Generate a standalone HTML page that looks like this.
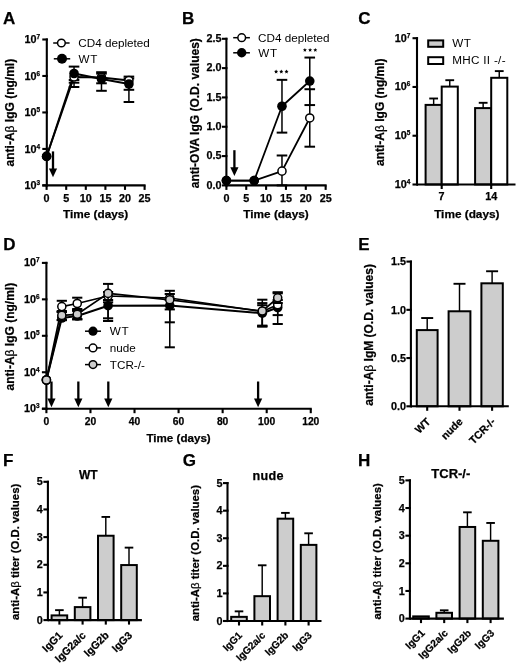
<!DOCTYPE html>
<html><head><meta charset="utf-8"><style>
html,body{margin:0;padding:0;background:#fff;}
svg{display:block;font-family:"Liberation Sans", sans-serif;filter:grayscale(1);}
text[font-weight="bold"]{stroke:#000;stroke-width:0.25;}
</style></head><body>
<svg width="520" height="665" viewBox="0 0 520 665">
<rect x="0" y="0" width="520" height="665" fill="#fff"/>
<g fill="#000">
<text x="3.10" y="24.10" font-size="17" font-weight="bold" text-anchor="start" >A</text>
<line x1="46.80" y1="38.45" x2="46.80" y2="186.45" stroke="#000" stroke-width="2.1" stroke-linecap="butt"/>
<line x1="42.30" y1="39.50" x2="47.85" y2="39.50" stroke="#000" stroke-width="2.1" stroke-linecap="butt"/>
<line x1="42.30" y1="75.97" x2="47.85" y2="75.97" stroke="#000" stroke-width="2.1" stroke-linecap="butt"/>
<line x1="42.30" y1="112.45" x2="47.85" y2="112.45" stroke="#000" stroke-width="2.1" stroke-linecap="butt"/>
<line x1="42.30" y1="148.93" x2="47.85" y2="148.93" stroke="#000" stroke-width="2.1" stroke-linecap="butt"/>
<line x1="42.30" y1="185.40" x2="47.85" y2="185.40" stroke="#000" stroke-width="2.1" stroke-linecap="butt"/>
<line x1="42.30" y1="185.40" x2="145.60" y2="185.40" stroke="#000" stroke-width="2.1" stroke-linecap="butt"/>
<line x1="46.60" y1="185.40" x2="46.60" y2="189.90" stroke="#000" stroke-width="2.1" stroke-linecap="butt"/>
<line x1="66.20" y1="185.40" x2="66.20" y2="189.90" stroke="#000" stroke-width="2.1" stroke-linecap="butt"/>
<line x1="85.80" y1="185.40" x2="85.80" y2="189.90" stroke="#000" stroke-width="2.1" stroke-linecap="butt"/>
<line x1="105.40" y1="185.40" x2="105.40" y2="189.90" stroke="#000" stroke-width="2.1" stroke-linecap="butt"/>
<line x1="125.00" y1="185.40" x2="125.00" y2="189.90" stroke="#000" stroke-width="2.1" stroke-linecap="butt"/>
<line x1="144.60" y1="185.40" x2="144.60" y2="189.90" stroke="#000" stroke-width="2.1" stroke-linecap="butt"/>
<text x="40.00" y="43.20" font-size="10.8" font-weight="bold" text-anchor="end">10<tspan font-size="6.48" dy="-3.9">7</tspan></text>
<text x="40.00" y="79.67" font-size="10.8" font-weight="bold" text-anchor="end">10<tspan font-size="6.48" dy="-3.9">6</tspan></text>
<text x="40.00" y="116.15" font-size="10.8" font-weight="bold" text-anchor="end">10<tspan font-size="6.48" dy="-3.9">5</tspan></text>
<text x="40.00" y="152.62" font-size="10.8" font-weight="bold" text-anchor="end">10<tspan font-size="6.48" dy="-3.9">4</tspan></text>
<text x="40.00" y="189.10" font-size="10.8" font-weight="bold" text-anchor="end">10<tspan font-size="6.48" dy="-3.9">3</tspan></text>
<text x="46.60" y="201.50" font-size="10.8" font-weight="bold" text-anchor="middle" >0</text>
<text x="66.20" y="201.50" font-size="10.8" font-weight="bold" text-anchor="middle" >5</text>
<text x="85.80" y="201.50" font-size="10.8" font-weight="bold" text-anchor="middle" >10</text>
<text x="105.40" y="201.50" font-size="10.8" font-weight="bold" text-anchor="middle" >15</text>
<text x="125.00" y="201.50" font-size="10.8" font-weight="bold" text-anchor="middle" >20</text>
<text x="144.60" y="201.50" font-size="10.8" font-weight="bold" text-anchor="middle" >25</text>
<text x="95.60" y="218.20" font-size="11.8" font-weight="bold" text-anchor="middle" >Time (days)</text>
<text x="0" y="0" font-size="12" font-weight="bold" text-anchor="middle" transform="translate(14.00,112.60) rotate(-90)">anti-A<tspan font-weight="normal">β</tspan> IgG (ng/ml)</text>
<line x1="53.20" y1="43.00" x2="69.60" y2="43.00" stroke="#000" stroke-width="1.5" stroke-linecap="butt"/>
<circle cx="61.40" cy="43.00" r="3.85" fill="#fff" stroke="#000" stroke-width="1.5"/>
<line x1="53.80" y1="58.80" x2="70.20" y2="58.80" stroke="#000" stroke-width="1.5" stroke-linecap="butt"/>
<circle cx="62.00" cy="58.80" r="5.00" fill="#000"/>
<text x="78.30" y="47.00" font-size="11.7" font-weight="normal" text-anchor="start" >CD4 depleted</text>
<text x="78.60" y="62.60" font-size="11.7" font-weight="normal" text-anchor="start" letter-spacing="0.6">WT</text>
<line x1="74.04" y1="82.70" x2="74.04" y2="87.00" stroke="#000" stroke-width="1.5" stroke-linecap="butt"/>
<line x1="68.74" y1="82.70" x2="79.34" y2="82.70" stroke="#000" stroke-width="2.0" stroke-linecap="butt"/>
<line x1="68.74" y1="87.00" x2="79.34" y2="87.00" stroke="#000" stroke-width="2.0" stroke-linecap="butt"/>
<line x1="101.48" y1="72.20" x2="101.48" y2="83.30" stroke="#000" stroke-width="1.5" stroke-linecap="butt"/>
<line x1="96.18" y1="72.20" x2="106.78" y2="72.20" stroke="#000" stroke-width="2.0" stroke-linecap="butt"/>
<line x1="96.18" y1="83.30" x2="106.78" y2="83.30" stroke="#000" stroke-width="2.0" stroke-linecap="butt"/>
<line x1="128.92" y1="76.60" x2="128.92" y2="89.80" stroke="#000" stroke-width="1.5" stroke-linecap="butt"/>
<line x1="123.62" y1="76.60" x2="134.22" y2="76.60" stroke="#000" stroke-width="2.0" stroke-linecap="butt"/>
<line x1="123.62" y1="89.80" x2="134.22" y2="89.80" stroke="#000" stroke-width="2.0" stroke-linecap="butt"/>
<line x1="74.04" y1="66.60" x2="74.04" y2="80.00" stroke="#000" stroke-width="1.5" stroke-linecap="butt"/>
<line x1="68.74" y1="66.60" x2="79.34" y2="66.60" stroke="#000" stroke-width="2.0" stroke-linecap="butt"/>
<line x1="68.74" y1="80.00" x2="79.34" y2="80.00" stroke="#000" stroke-width="2.0" stroke-linecap="butt"/>
<line x1="101.48" y1="73.60" x2="101.48" y2="90.80" stroke="#000" stroke-width="1.5" stroke-linecap="butt"/>
<line x1="96.18" y1="73.60" x2="106.78" y2="73.60" stroke="#000" stroke-width="2.0" stroke-linecap="butt"/>
<line x1="96.18" y1="90.80" x2="106.78" y2="90.80" stroke="#000" stroke-width="2.0" stroke-linecap="butt"/>
<line x1="128.92" y1="78.50" x2="128.92" y2="102.00" stroke="#000" stroke-width="1.5" stroke-linecap="butt"/>
<line x1="123.62" y1="78.50" x2="134.22" y2="78.50" stroke="#000" stroke-width="2.0" stroke-linecap="butt"/>
<line x1="123.62" y1="102.00" x2="134.22" y2="102.00" stroke="#000" stroke-width="2.0" stroke-linecap="butt"/>
<polyline points="46.60,156.40 74.04,77.00 101.48,77.50 128.92,80.50" fill="none" stroke="#000" stroke-width="1.8" stroke-linejoin="round"/>
<polyline points="46.60,156.40 74.04,73.50 101.48,79.00 128.92,84.00" fill="none" stroke="#000" stroke-width="1.8" stroke-linejoin="round"/>
<circle cx="46.60" cy="156.40" r="4.05" fill="#fff" stroke="#000" stroke-width="1.5"/>
<circle cx="74.04" cy="77.00" r="4.05" fill="#fff" stroke="#000" stroke-width="1.5"/>
<circle cx="101.48" cy="77.50" r="4.05" fill="#fff" stroke="#000" stroke-width="1.5"/>
<circle cx="128.92" cy="80.50" r="4.05" fill="#fff" stroke="#000" stroke-width="1.5"/>
<circle cx="46.60" cy="156.40" r="4.80" fill="#000"/>
<circle cx="74.04" cy="73.50" r="4.80" fill="#000"/>
<circle cx="101.48" cy="79.00" r="4.80" fill="#000"/>
<circle cx="128.92" cy="84.00" r="4.80" fill="#000"/>
<line x1="53.00" y1="151.40" x2="53.00" y2="169.50" stroke="#000" stroke-width="2.3" stroke-linecap="butt"/>
<polygon points="48.90,168.50 57.10,168.50 53.00,177.30" fill="#000"/>
<text x="182.10" y="24.20" font-size="17" font-weight="bold" text-anchor="start" >B</text>
<line x1="226.40" y1="37.75" x2="226.40" y2="186.45" stroke="#000" stroke-width="2.1" stroke-linecap="butt"/>
<line x1="221.90" y1="38.80" x2="227.45" y2="38.80" stroke="#000" stroke-width="2.1" stroke-linecap="butt"/>
<line x1="221.90" y1="68.12" x2="227.45" y2="68.12" stroke="#000" stroke-width="2.1" stroke-linecap="butt"/>
<line x1="221.90" y1="97.44" x2="227.45" y2="97.44" stroke="#000" stroke-width="2.1" stroke-linecap="butt"/>
<line x1="221.90" y1="126.76" x2="227.45" y2="126.76" stroke="#000" stroke-width="2.1" stroke-linecap="butt"/>
<line x1="221.90" y1="156.08" x2="227.45" y2="156.08" stroke="#000" stroke-width="2.1" stroke-linecap="butt"/>
<line x1="221.90" y1="185.40" x2="227.45" y2="185.40" stroke="#000" stroke-width="2.1" stroke-linecap="butt"/>
<line x1="226.40" y1="185.40" x2="326.65" y2="185.40" stroke="#000" stroke-width="2.1" stroke-linecap="butt"/>
<line x1="226.40" y1="185.40" x2="226.40" y2="189.90" stroke="#000" stroke-width="2.1" stroke-linecap="butt"/>
<line x1="246.25" y1="185.40" x2="246.25" y2="189.90" stroke="#000" stroke-width="2.1" stroke-linecap="butt"/>
<line x1="266.10" y1="185.40" x2="266.10" y2="189.90" stroke="#000" stroke-width="2.1" stroke-linecap="butt"/>
<line x1="285.95" y1="185.40" x2="285.95" y2="189.90" stroke="#000" stroke-width="2.1" stroke-linecap="butt"/>
<line x1="305.80" y1="185.40" x2="305.80" y2="189.90" stroke="#000" stroke-width="2.1" stroke-linecap="butt"/>
<line x1="325.65" y1="185.40" x2="325.65" y2="189.90" stroke="#000" stroke-width="2.1" stroke-linecap="butt"/>
<text x="221.60" y="42.00" font-size="10.8" font-weight="bold" text-anchor="end" >2.5</text>
<text x="221.60" y="71.32" font-size="10.8" font-weight="bold" text-anchor="end" >2.0</text>
<text x="221.60" y="100.64" font-size="10.8" font-weight="bold" text-anchor="end" >1.5</text>
<text x="221.60" y="129.96" font-size="10.8" font-weight="bold" text-anchor="end" >1.0</text>
<text x="221.60" y="159.28" font-size="10.8" font-weight="bold" text-anchor="end" >0.5</text>
<text x="221.60" y="188.60" font-size="10.8" font-weight="bold" text-anchor="end" >0.0</text>
<text x="226.40" y="201.50" font-size="10.8" font-weight="bold" text-anchor="middle" >0</text>
<text x="246.25" y="201.50" font-size="10.8" font-weight="bold" text-anchor="middle" >5</text>
<text x="266.10" y="201.50" font-size="10.8" font-weight="bold" text-anchor="middle" >10</text>
<text x="285.95" y="201.50" font-size="10.8" font-weight="bold" text-anchor="middle" >15</text>
<text x="305.80" y="201.50" font-size="10.8" font-weight="bold" text-anchor="middle" >20</text>
<text x="325.65" y="201.50" font-size="10.8" font-weight="bold" text-anchor="middle" >25</text>
<text x="276.02" y="218.20" font-size="11.8" font-weight="bold" text-anchor="middle" >Time (days)</text>
<text x="0" y="0" font-size="12" font-weight="bold" text-anchor="middle" transform="translate(199.20,113.20) rotate(-90)">anti-OVA IgG (O.D. values)</text>
<line x1="233.20" y1="37.70" x2="249.90" y2="37.70" stroke="#000" stroke-width="1.5" stroke-linecap="butt"/>
<circle cx="241.70" cy="37.70" r="3.85" fill="#fff" stroke="#000" stroke-width="1.5"/>
<line x1="233.20" y1="52.80" x2="249.90" y2="52.80" stroke="#000" stroke-width="1.5" stroke-linecap="butt"/>
<circle cx="241.70" cy="52.80" r="4.70" fill="#000"/>
<text x="258.00" y="41.90" font-size="11.7" font-weight="normal" text-anchor="start" >CD4 depleted</text>
<text x="258.30" y="57.30" font-size="11.7" font-weight="normal" text-anchor="start" letter-spacing="0.6">WT</text>
<line x1="281.98" y1="185.40" x2="281.98" y2="155.49" stroke="#000" stroke-width="1.5" stroke-linecap="butt"/>
<line x1="276.68" y1="185.40" x2="287.28" y2="185.40" stroke="#000" stroke-width="2.0" stroke-linecap="butt"/>
<line x1="276.68" y1="155.49" x2="287.28" y2="155.49" stroke="#000" stroke-width="2.0" stroke-linecap="butt"/>
<line x1="309.77" y1="146.70" x2="309.77" y2="89.23" stroke="#000" stroke-width="1.5" stroke-linecap="butt"/>
<line x1="304.47" y1="146.70" x2="315.07" y2="146.70" stroke="#000" stroke-width="2.0" stroke-linecap="butt"/>
<line x1="304.47" y1="89.23" x2="315.07" y2="89.23" stroke="#000" stroke-width="2.0" stroke-linecap="butt"/>
<line x1="281.98" y1="132.62" x2="281.98" y2="79.85" stroke="#000" stroke-width="1.5" stroke-linecap="butt"/>
<line x1="276.68" y1="132.62" x2="287.28" y2="132.62" stroke="#000" stroke-width="2.0" stroke-linecap="butt"/>
<line x1="276.68" y1="79.85" x2="287.28" y2="79.85" stroke="#000" stroke-width="2.0" stroke-linecap="butt"/>
<line x1="309.77" y1="105.06" x2="309.77" y2="57.56" stroke="#000" stroke-width="1.5" stroke-linecap="butt"/>
<line x1="304.47" y1="105.06" x2="315.07" y2="105.06" stroke="#000" stroke-width="2.0" stroke-linecap="butt"/>
<line x1="304.47" y1="57.56" x2="315.07" y2="57.56" stroke="#000" stroke-width="2.0" stroke-linecap="butt"/>
<polyline points="226.40,180.53 254.19,180.53 281.98,171.15 309.77,117.96" fill="none" stroke="#000" stroke-width="1.8" stroke-linejoin="round"/>
<polyline points="226.40,180.53 254.19,180.53 281.98,106.24 309.77,81.02" fill="none" stroke="#000" stroke-width="1.8" stroke-linejoin="round"/>
<circle cx="226.40" cy="180.53" r="4.05" fill="#fff" stroke="#000" stroke-width="1.5"/>
<circle cx="254.19" cy="180.53" r="4.05" fill="#fff" stroke="#000" stroke-width="1.5"/>
<circle cx="281.98" cy="171.15" r="4.05" fill="#fff" stroke="#000" stroke-width="1.5"/>
<circle cx="309.77" cy="117.96" r="4.05" fill="#fff" stroke="#000" stroke-width="1.5"/>
<circle cx="226.40" cy="180.53" r="4.80" fill="#000"/>
<circle cx="254.19" cy="180.53" r="4.80" fill="#000"/>
<circle cx="281.98" cy="106.24" r="4.80" fill="#000"/>
<circle cx="309.77" cy="81.02" r="4.80" fill="#000"/>
<polygon points="276.10,69.50 276.69,70.84 278.14,70.99 277.05,71.96 277.36,73.39 276.10,72.65 274.84,73.39 275.15,71.96 274.06,70.99 275.51,70.84" fill="#000"/>
<polygon points="281.30,69.50 281.89,70.84 283.34,70.99 282.25,71.96 282.56,73.39 281.30,72.65 280.04,73.39 280.35,71.96 279.26,70.99 280.71,70.84" fill="#000"/>
<polygon points="286.50,69.50 287.09,70.84 288.54,70.99 287.45,71.96 287.76,73.39 286.50,72.65 285.24,73.39 285.55,71.96 284.46,70.99 285.91,70.84" fill="#000"/>
<polygon points="304.90,47.90 305.49,49.24 306.94,49.39 305.85,50.36 306.16,51.79 304.90,51.05 303.64,51.79 303.95,50.36 302.86,49.39 304.31,49.24" fill="#000"/>
<polygon points="310.10,47.90 310.69,49.24 312.14,49.39 311.05,50.36 311.36,51.79 310.10,51.05 308.84,51.79 309.15,50.36 308.06,49.39 309.51,49.24" fill="#000"/>
<polygon points="315.30,47.90 315.89,49.24 317.34,49.39 316.25,50.36 316.56,51.79 315.30,51.05 314.04,51.79 314.35,50.36 313.26,49.39 314.71,49.24" fill="#000"/>
<line x1="234.40" y1="150.20" x2="234.40" y2="168.30" stroke="#000" stroke-width="2.3" stroke-linecap="butt"/>
<polygon points="230.30,167.30 238.50,167.30 234.40,176.10" fill="#000"/>
<text x="358.30" y="24.10" font-size="17" font-weight="bold" text-anchor="start" >C</text>
<line x1="433.65" y1="104.90" x2="433.65" y2="98.50" stroke="#000" stroke-width="1.45" stroke-linecap="butt"/>
<line x1="429.25" y1="98.50" x2="438.05" y2="98.50" stroke="#000" stroke-width="1.9" stroke-linecap="butt"/>
<rect x="425.60" y="104.90" width="16.10" height="79.60" fill="#cdcdcd" stroke="#000" stroke-width="2"/>
<line x1="449.75" y1="86.60" x2="449.75" y2="80.20" stroke="#000" stroke-width="1.45" stroke-linecap="butt"/>
<line x1="445.35" y1="80.20" x2="454.15" y2="80.20" stroke="#000" stroke-width="1.9" stroke-linecap="butt"/>
<rect x="441.70" y="86.60" width="16.10" height="97.90" fill="#fff" stroke="#000" stroke-width="2"/>
<line x1="483.15" y1="108.10" x2="483.15" y2="102.80" stroke="#000" stroke-width="1.45" stroke-linecap="butt"/>
<line x1="478.75" y1="102.80" x2="487.55" y2="102.80" stroke="#000" stroke-width="1.9" stroke-linecap="butt"/>
<rect x="475.10" y="108.10" width="16.10" height="76.40" fill="#cdcdcd" stroke="#000" stroke-width="2"/>
<line x1="499.25" y1="77.80" x2="499.25" y2="71.10" stroke="#000" stroke-width="1.45" stroke-linecap="butt"/>
<line x1="494.85" y1="71.10" x2="503.65" y2="71.10" stroke="#000" stroke-width="1.9" stroke-linecap="butt"/>
<rect x="491.20" y="77.80" width="16.10" height="106.70" fill="#fff" stroke="#000" stroke-width="2"/>
<line x1="417.00" y1="37.15" x2="417.00" y2="185.55" stroke="#000" stroke-width="2.1" stroke-linecap="butt"/>
<line x1="412.50" y1="38.20" x2="418.05" y2="38.20" stroke="#000" stroke-width="2.1" stroke-linecap="butt"/>
<line x1="412.50" y1="86.97" x2="418.05" y2="86.97" stroke="#000" stroke-width="2.1" stroke-linecap="butt"/>
<line x1="412.50" y1="135.73" x2="418.05" y2="135.73" stroke="#000" stroke-width="2.1" stroke-linecap="butt"/>
<line x1="412.50" y1="184.50" x2="418.05" y2="184.50" stroke="#000" stroke-width="2.1" stroke-linecap="butt"/>
<line x1="417.00" y1="184.50" x2="515.50" y2="184.50" stroke="#000" stroke-width="2.1" stroke-linecap="butt"/>
<line x1="441.70" y1="184.50" x2="441.70" y2="189.00" stroke="#000" stroke-width="2.1" stroke-linecap="butt"/>
<line x1="491.20" y1="184.50" x2="491.20" y2="189.00" stroke="#000" stroke-width="2.1" stroke-linecap="butt"/>
<text x="410.40" y="41.60" font-size="10.8" font-weight="bold" text-anchor="end">10<tspan font-size="6.48" dy="-3.9">7</tspan></text>
<text x="410.40" y="90.37" font-size="10.8" font-weight="bold" text-anchor="end">10<tspan font-size="6.48" dy="-3.9">6</tspan></text>
<text x="410.40" y="139.13" font-size="10.8" font-weight="bold" text-anchor="end">10<tspan font-size="6.48" dy="-3.9">5</tspan></text>
<text x="410.40" y="187.90" font-size="10.8" font-weight="bold" text-anchor="end">10<tspan font-size="6.48" dy="-3.9">4</tspan></text>
<text x="441.60" y="200.30" font-size="10.8" font-weight="bold" text-anchor="middle" >7</text>
<text x="491.20" y="200.30" font-size="10.8" font-weight="bold" text-anchor="middle" >14</text>
<text x="466.80" y="218.10" font-size="11.8" font-weight="bold" text-anchor="middle" >Time (days)</text>
<text x="0" y="0" font-size="12" font-weight="bold" text-anchor="middle" transform="translate(383.80,112.20) rotate(-90)">anti-A<tspan font-weight="normal">β</tspan> IgG (ng/ml)</text>
<rect x="428.20" y="40.40" width="15.00" height="6.40" fill="#cdcdcd" stroke="#000" stroke-width="2"/>
<rect x="428.20" y="57.20" width="15.00" height="6.80" fill="#fff" stroke="#000" stroke-width="2"/>
<text x="452.20" y="46.90" font-size="11.7" font-weight="normal" text-anchor="start" letter-spacing="0.5">WT</text>
<text x="452.20" y="64.00" font-size="11.7" font-weight="normal" text-anchor="start" letter-spacing="0.3">MHC II -/-</text>
<text x="3.30" y="250.10" font-size="17" font-weight="bold" text-anchor="start" >D</text>
<line x1="46.40" y1="261.85" x2="46.40" y2="409.75" stroke="#000" stroke-width="2.1" stroke-linecap="butt"/>
<line x1="41.90" y1="262.90" x2="47.45" y2="262.90" stroke="#000" stroke-width="2.1" stroke-linecap="butt"/>
<line x1="41.90" y1="299.35" x2="47.45" y2="299.35" stroke="#000" stroke-width="2.1" stroke-linecap="butt"/>
<line x1="41.90" y1="335.80" x2="47.45" y2="335.80" stroke="#000" stroke-width="2.1" stroke-linecap="butt"/>
<line x1="41.90" y1="372.25" x2="47.45" y2="372.25" stroke="#000" stroke-width="2.1" stroke-linecap="butt"/>
<line x1="41.90" y1="408.70" x2="47.45" y2="408.70" stroke="#000" stroke-width="2.1" stroke-linecap="butt"/>
<line x1="41.90" y1="408.70" x2="311.76" y2="408.70" stroke="#000" stroke-width="2.1" stroke-linecap="butt"/>
<line x1="46.40" y1="408.70" x2="46.40" y2="413.20" stroke="#000" stroke-width="2.1" stroke-linecap="butt"/>
<line x1="90.46" y1="408.70" x2="90.46" y2="413.20" stroke="#000" stroke-width="2.1" stroke-linecap="butt"/>
<line x1="134.52" y1="408.70" x2="134.52" y2="413.20" stroke="#000" stroke-width="2.1" stroke-linecap="butt"/>
<line x1="178.58" y1="408.70" x2="178.58" y2="413.20" stroke="#000" stroke-width="2.1" stroke-linecap="butt"/>
<line x1="222.64" y1="408.70" x2="222.64" y2="413.20" stroke="#000" stroke-width="2.1" stroke-linecap="butt"/>
<line x1="266.70" y1="408.70" x2="266.70" y2="413.20" stroke="#000" stroke-width="2.1" stroke-linecap="butt"/>
<line x1="310.76" y1="408.70" x2="310.76" y2="413.20" stroke="#000" stroke-width="2.1" stroke-linecap="butt"/>
<text x="39.60" y="266.20" font-size="10.8" font-weight="bold" text-anchor="end">10<tspan font-size="6.48" dy="-3.9">7</tspan></text>
<text x="39.60" y="302.65" font-size="10.8" font-weight="bold" text-anchor="end">10<tspan font-size="6.48" dy="-3.9">6</tspan></text>
<text x="39.60" y="339.10" font-size="10.8" font-weight="bold" text-anchor="end">10<tspan font-size="6.48" dy="-3.9">5</tspan></text>
<text x="39.60" y="375.55" font-size="10.8" font-weight="bold" text-anchor="end">10<tspan font-size="6.48" dy="-3.9">4</tspan></text>
<text x="39.60" y="412.00" font-size="10.8" font-weight="bold" text-anchor="end">10<tspan font-size="6.48" dy="-3.9">3</tspan></text>
<text x="46.40" y="425.00" font-size="10.3" font-weight="bold" text-anchor="middle" >0</text>
<text x="90.46" y="425.00" font-size="10.3" font-weight="bold" text-anchor="middle" >20</text>
<text x="134.52" y="425.00" font-size="10.3" font-weight="bold" text-anchor="middle" >40</text>
<text x="178.58" y="425.00" font-size="10.3" font-weight="bold" text-anchor="middle" >60</text>
<text x="222.64" y="425.00" font-size="10.3" font-weight="bold" text-anchor="middle" >80</text>
<text x="266.70" y="425.00" font-size="10.3" font-weight="bold" text-anchor="middle" >100</text>
<text x="310.76" y="425.00" font-size="10.3" font-weight="bold" text-anchor="middle" >120</text>
<text x="178.58" y="441.80" font-size="11.6" font-weight="bold" text-anchor="middle" >Time (days)</text>
<text x="0" y="0" font-size="12" font-weight="bold" text-anchor="middle" transform="translate(13.60,336.60) rotate(-90)">anti-A<tspan font-weight="normal">β</tspan> IgG (ng/ml)</text>
<line x1="85.00" y1="331.20" x2="101.00" y2="331.20" stroke="#000" stroke-width="1.5" stroke-linecap="butt"/>
<circle cx="93.00" cy="331.20" r="4.60" fill="#000"/>
<text x="109.80" y="335.20" font-size="11.7" font-weight="normal" text-anchor="start" letter-spacing="0.6">WT</text>
<line x1="85.00" y1="347.90" x2="101.00" y2="347.90" stroke="#000" stroke-width="1.5" stroke-linecap="butt"/>
<circle cx="93.00" cy="347.90" r="3.85" fill="#fff" stroke="#000" stroke-width="1.5"/>
<text x="109.80" y="351.90" font-size="11.7" font-weight="normal" text-anchor="start" >nude</text>
<line x1="85.00" y1="364.60" x2="101.00" y2="364.60" stroke="#000" stroke-width="1.5" stroke-linecap="butt"/>
<circle cx="93.00" cy="364.60" r="3.85" fill="#cdcdcd" stroke="#000" stroke-width="1.5"/>
<text x="109.80" y="368.60" font-size="11.7" font-weight="normal" text-anchor="start" >TCR-/-</text>
<line x1="61.82" y1="312.00" x2="61.82" y2="320.20" stroke="#000" stroke-width="1.5" stroke-linecap="butt"/>
<line x1="56.72" y1="312.00" x2="66.92" y2="312.00" stroke="#000" stroke-width="2.0" stroke-linecap="butt"/>
<line x1="56.72" y1="320.20" x2="66.92" y2="320.20" stroke="#000" stroke-width="2.0" stroke-linecap="butt"/>
<line x1="77.24" y1="311.00" x2="77.24" y2="319.50" stroke="#000" stroke-width="1.5" stroke-linecap="butt"/>
<line x1="72.14" y1="311.00" x2="82.34" y2="311.00" stroke="#000" stroke-width="2.0" stroke-linecap="butt"/>
<line x1="72.14" y1="319.50" x2="82.34" y2="319.50" stroke="#000" stroke-width="2.0" stroke-linecap="butt"/>
<line x1="108.08" y1="300.00" x2="108.08" y2="321.00" stroke="#000" stroke-width="1.5" stroke-linecap="butt"/>
<line x1="102.98" y1="300.00" x2="113.18" y2="300.00" stroke="#000" stroke-width="2.0" stroke-linecap="butt"/>
<line x1="102.98" y1="321.00" x2="113.18" y2="321.00" stroke="#000" stroke-width="2.0" stroke-linecap="butt"/>
<line x1="169.77" y1="300.00" x2="169.77" y2="347.30" stroke="#000" stroke-width="1.5" stroke-linecap="butt"/>
<line x1="164.67" y1="300.00" x2="174.87" y2="300.00" stroke="#000" stroke-width="2.0" stroke-linecap="butt"/>
<line x1="164.67" y1="347.30" x2="174.87" y2="347.30" stroke="#000" stroke-width="2.0" stroke-linecap="butt"/>
<line x1="262.29" y1="305.20" x2="262.29" y2="326.20" stroke="#000" stroke-width="1.5" stroke-linecap="butt"/>
<line x1="257.19" y1="305.20" x2="267.39" y2="305.20" stroke="#000" stroke-width="2.0" stroke-linecap="butt"/>
<line x1="257.19" y1="326.20" x2="267.39" y2="326.20" stroke="#000" stroke-width="2.0" stroke-linecap="butt"/>
<line x1="277.71" y1="300.00" x2="277.71" y2="315.10" stroke="#000" stroke-width="1.5" stroke-linecap="butt"/>
<line x1="272.61" y1="300.00" x2="282.81" y2="300.00" stroke="#000" stroke-width="2.0" stroke-linecap="butt"/>
<line x1="272.61" y1="315.10" x2="282.81" y2="315.10" stroke="#000" stroke-width="2.0" stroke-linecap="butt"/>
<polyline points="46.40,380.00 61.82,318.00 77.24,316.00 108.08,305.70 169.77,305.60 262.29,313.20 277.71,307.50" fill="none" stroke="#000" stroke-width="2.0" stroke-linejoin="round"/>
<circle cx="46.40" cy="380.00" r="4.80" fill="#000"/>
<circle cx="61.82" cy="318.00" r="4.80" fill="#000"/>
<circle cx="77.24" cy="316.00" r="4.80" fill="#000"/>
<circle cx="108.08" cy="305.70" r="4.80" fill="#000"/>
<circle cx="169.77" cy="305.60" r="4.80" fill="#000"/>
<circle cx="262.29" cy="313.20" r="4.80" fill="#000"/>
<circle cx="277.71" cy="307.50" r="4.80" fill="#000"/>
<line x1="61.82" y1="300.80" x2="61.82" y2="312.00" stroke="#000" stroke-width="1.5" stroke-linecap="butt"/>
<line x1="56.72" y1="300.80" x2="66.92" y2="300.80" stroke="#000" stroke-width="2.0" stroke-linecap="butt"/>
<line x1="56.72" y1="312.00" x2="66.92" y2="312.00" stroke="#000" stroke-width="2.0" stroke-linecap="butt"/>
<line x1="77.24" y1="297.70" x2="77.24" y2="309.00" stroke="#000" stroke-width="1.5" stroke-linecap="butt"/>
<line x1="72.14" y1="297.70" x2="82.34" y2="297.70" stroke="#000" stroke-width="2.0" stroke-linecap="butt"/>
<line x1="72.14" y1="309.00" x2="82.34" y2="309.00" stroke="#000" stroke-width="2.0" stroke-linecap="butt"/>
<line x1="108.08" y1="292.00" x2="108.08" y2="318.30" stroke="#000" stroke-width="1.5" stroke-linecap="butt"/>
<line x1="102.98" y1="292.00" x2="113.18" y2="292.00" stroke="#000" stroke-width="2.0" stroke-linecap="butt"/>
<line x1="102.98" y1="318.30" x2="113.18" y2="318.30" stroke="#000" stroke-width="2.0" stroke-linecap="butt"/>
<line x1="169.77" y1="290.80" x2="169.77" y2="322.30" stroke="#000" stroke-width="1.5" stroke-linecap="butt"/>
<line x1="164.67" y1="290.80" x2="174.87" y2="290.80" stroke="#000" stroke-width="2.0" stroke-linecap="butt"/>
<line x1="164.67" y1="322.30" x2="174.87" y2="322.30" stroke="#000" stroke-width="2.0" stroke-linecap="butt"/>
<line x1="262.29" y1="299.70" x2="262.29" y2="325.60" stroke="#000" stroke-width="1.5" stroke-linecap="butt"/>
<line x1="257.19" y1="299.70" x2="267.39" y2="299.70" stroke="#000" stroke-width="2.0" stroke-linecap="butt"/>
<line x1="257.19" y1="325.60" x2="267.39" y2="325.60" stroke="#000" stroke-width="2.0" stroke-linecap="butt"/>
<line x1="277.71" y1="293.30" x2="277.71" y2="324.00" stroke="#000" stroke-width="1.5" stroke-linecap="butt"/>
<line x1="272.61" y1="293.30" x2="282.81" y2="293.30" stroke="#000" stroke-width="2.0" stroke-linecap="butt"/>
<line x1="272.61" y1="324.00" x2="282.81" y2="324.00" stroke="#000" stroke-width="2.0" stroke-linecap="butt"/>
<polyline points="46.40,380.00 61.82,306.60 77.24,303.50 108.08,296.00 169.77,298.00 262.29,311.50 277.71,304.80" fill="none" stroke="#000" stroke-width="1.7" stroke-linejoin="round"/>
<circle cx="46.40" cy="380.00" r="4.05" fill="#fff" stroke="#000" stroke-width="1.5"/>
<circle cx="61.82" cy="306.60" r="4.05" fill="#fff" stroke="#000" stroke-width="1.5"/>
<circle cx="77.24" cy="303.50" r="4.05" fill="#fff" stroke="#000" stroke-width="1.5"/>
<circle cx="108.08" cy="296.00" r="4.05" fill="#fff" stroke="#000" stroke-width="1.5"/>
<circle cx="169.77" cy="298.00" r="4.05" fill="#fff" stroke="#000" stroke-width="1.5"/>
<circle cx="262.29" cy="311.50" r="4.05" fill="#fff" stroke="#000" stroke-width="1.5"/>
<circle cx="277.71" cy="304.80" r="4.05" fill="#fff" stroke="#000" stroke-width="1.5"/>
<line x1="61.82" y1="311.00" x2="61.82" y2="320.00" stroke="#000" stroke-width="1.5" stroke-linecap="butt"/>
<line x1="56.72" y1="311.00" x2="66.92" y2="311.00" stroke="#000" stroke-width="2.0" stroke-linecap="butt"/>
<line x1="56.72" y1="320.00" x2="66.92" y2="320.00" stroke="#000" stroke-width="2.0" stroke-linecap="butt"/>
<line x1="77.24" y1="310.00" x2="77.24" y2="319.00" stroke="#000" stroke-width="1.5" stroke-linecap="butt"/>
<line x1="72.14" y1="310.00" x2="82.34" y2="310.00" stroke="#000" stroke-width="2.0" stroke-linecap="butt"/>
<line x1="72.14" y1="319.00" x2="82.34" y2="319.00" stroke="#000" stroke-width="2.0" stroke-linecap="butt"/>
<line x1="108.08" y1="283.90" x2="108.08" y2="302.30" stroke="#000" stroke-width="1.5" stroke-linecap="butt"/>
<line x1="102.98" y1="283.90" x2="113.18" y2="283.90" stroke="#000" stroke-width="2.0" stroke-linecap="butt"/>
<line x1="102.98" y1="302.30" x2="113.18" y2="302.30" stroke="#000" stroke-width="2.0" stroke-linecap="butt"/>
<line x1="169.77" y1="294.00" x2="169.77" y2="309.40" stroke="#000" stroke-width="1.5" stroke-linecap="butt"/>
<line x1="164.67" y1="294.00" x2="174.87" y2="294.00" stroke="#000" stroke-width="2.0" stroke-linecap="butt"/>
<line x1="164.67" y1="309.40" x2="174.87" y2="309.40" stroke="#000" stroke-width="2.0" stroke-linecap="butt"/>
<line x1="262.29" y1="303.10" x2="262.29" y2="326.60" stroke="#000" stroke-width="1.5" stroke-linecap="butt"/>
<line x1="257.19" y1="303.10" x2="267.39" y2="303.10" stroke="#000" stroke-width="2.0" stroke-linecap="butt"/>
<line x1="257.19" y1="326.60" x2="267.39" y2="326.60" stroke="#000" stroke-width="2.0" stroke-linecap="butt"/>
<line x1="277.71" y1="292.20" x2="277.71" y2="303.00" stroke="#000" stroke-width="1.5" stroke-linecap="butt"/>
<line x1="272.61" y1="292.20" x2="282.81" y2="292.20" stroke="#000" stroke-width="2.0" stroke-linecap="butt"/>
<line x1="272.61" y1="303.00" x2="282.81" y2="303.00" stroke="#000" stroke-width="2.0" stroke-linecap="butt"/>
<polyline points="46.40,380.00 61.82,315.40 77.24,314.30 108.08,293.40 169.77,299.80 262.29,311.00 277.71,297.80" fill="none" stroke="#000" stroke-width="1.7" stroke-linejoin="round"/>
<circle cx="46.40" cy="380.00" r="4.05" fill="#cdcdcd" stroke="#000" stroke-width="1.5"/>
<circle cx="61.82" cy="315.40" r="4.05" fill="#cdcdcd" stroke="#000" stroke-width="1.5"/>
<circle cx="77.24" cy="314.30" r="4.05" fill="#cdcdcd" stroke="#000" stroke-width="1.5"/>
<circle cx="108.08" cy="293.40" r="4.05" fill="#cdcdcd" stroke="#000" stroke-width="1.5"/>
<circle cx="169.77" cy="299.80" r="4.05" fill="#cdcdcd" stroke="#000" stroke-width="1.5"/>
<circle cx="262.29" cy="311.00" r="4.05" fill="#cdcdcd" stroke="#000" stroke-width="1.5"/>
<circle cx="277.71" cy="297.80" r="4.05" fill="#cdcdcd" stroke="#000" stroke-width="1.5"/>
<line x1="51.47" y1="381.50" x2="51.47" y2="399.50" stroke="#000" stroke-width="2.3" stroke-linecap="butt"/>
<polygon points="47.37,398.50 55.57,398.50 51.47,407.30" fill="#000"/>
<line x1="78.34" y1="381.50" x2="78.34" y2="399.50" stroke="#000" stroke-width="2.3" stroke-linecap="butt"/>
<polygon points="74.24,398.50 82.44,398.50 78.34,407.30" fill="#000"/>
<line x1="108.30" y1="381.50" x2="108.30" y2="399.50" stroke="#000" stroke-width="2.3" stroke-linecap="butt"/>
<polygon points="104.20,398.50 112.40,398.50 108.30,407.30" fill="#000"/>
<line x1="258.11" y1="381.50" x2="258.11" y2="399.50" stroke="#000" stroke-width="2.3" stroke-linecap="butt"/>
<polygon points="254.01,398.50 262.21,398.50 258.11,407.30" fill="#000"/>
<text x="358.30" y="250.10" font-size="17" font-weight="bold" text-anchor="start" >E</text>
<line x1="427.20" y1="330.09" x2="427.20" y2="318.03" stroke="#000" stroke-width="1.45" stroke-linecap="butt"/>
<line x1="421.20" y1="318.03" x2="433.20" y2="318.03" stroke="#000" stroke-width="1.9" stroke-linecap="butt"/>
<rect x="416.80" y="330.09" width="20.80" height="76.21" fill="#cdcdcd" stroke="#000" stroke-width="2"/>
<line x1="459.50" y1="311.28" x2="459.50" y2="283.79" stroke="#000" stroke-width="1.45" stroke-linecap="butt"/>
<line x1="453.50" y1="283.79" x2="465.50" y2="283.79" stroke="#000" stroke-width="1.9" stroke-linecap="butt"/>
<rect x="448.60" y="311.28" width="21.80" height="95.02" fill="#cdcdcd" stroke="#000" stroke-width="2"/>
<line x1="492.10" y1="283.31" x2="492.10" y2="271.25" stroke="#000" stroke-width="1.45" stroke-linecap="butt"/>
<line x1="486.10" y1="271.25" x2="498.10" y2="271.25" stroke="#000" stroke-width="1.9" stroke-linecap="butt"/>
<rect x="481.40" y="283.31" width="21.40" height="123.00" fill="#cdcdcd" stroke="#000" stroke-width="2"/>
<line x1="410.90" y1="260.55" x2="410.90" y2="407.35" stroke="#000" stroke-width="2.1" stroke-linecap="butt"/>
<line x1="406.40" y1="261.60" x2="411.95" y2="261.60" stroke="#000" stroke-width="2.1" stroke-linecap="butt"/>
<line x1="406.40" y1="309.83" x2="411.95" y2="309.83" stroke="#000" stroke-width="2.1" stroke-linecap="butt"/>
<line x1="406.40" y1="358.07" x2="411.95" y2="358.07" stroke="#000" stroke-width="2.1" stroke-linecap="butt"/>
<line x1="406.40" y1="406.30" x2="411.95" y2="406.30" stroke="#000" stroke-width="2.1" stroke-linecap="butt"/>
<line x1="410.90" y1="406.30" x2="508.80" y2="406.30" stroke="#000" stroke-width="2.1" stroke-linecap="butt"/>
<line x1="427.20" y1="406.30" x2="427.20" y2="410.80" stroke="#000" stroke-width="2.1" stroke-linecap="butt"/>
<line x1="459.50" y1="406.30" x2="459.50" y2="410.80" stroke="#000" stroke-width="2.1" stroke-linecap="butt"/>
<line x1="492.10" y1="406.30" x2="492.10" y2="410.80" stroke="#000" stroke-width="2.1" stroke-linecap="butt"/>
<text x="406.00" y="265.30" font-size="10.8" font-weight="bold" text-anchor="end" >1.5</text>
<text x="406.00" y="313.53" font-size="10.8" font-weight="bold" text-anchor="end" >1.0</text>
<text x="406.00" y="361.77" font-size="10.8" font-weight="bold" text-anchor="end" >0.5</text>
<text x="406.00" y="410.00" font-size="10.8" font-weight="bold" text-anchor="end" >0.0</text>
<text x="0" y="0" font-size="12" font-weight="bold" text-anchor="middle" transform="translate(372.60,334.90) rotate(-90)">anti-A<tspan font-weight="normal">β</tspan> IgM (O.D. values)</text>
<text x="0" y="0" font-size="10.6" font-weight="bold" text-anchor="end" transform="translate(431.00,422.30) rotate(-45)">WT</text>
<text x="0" y="0" font-size="10.6" font-weight="bold" text-anchor="end" transform="translate(463.30,422.30) rotate(-45)">nude</text>
<text x="0" y="0" font-size="10.6" font-weight="bold" text-anchor="end" transform="translate(495.90,422.30) rotate(-45)">TCR-/-</text>
<text x="3.10" y="466.20" font-size="17" font-weight="bold" text-anchor="start" >F</text>
<line x1="59.40" y1="615.40" x2="59.40" y2="610.14" stroke="#000" stroke-width="1.45" stroke-linecap="butt"/>
<line x1="55.10" y1="610.14" x2="63.70" y2="610.14" stroke="#000" stroke-width="1.9" stroke-linecap="butt"/>
<rect x="51.60" y="615.40" width="15.60" height="4.70" fill="#cdcdcd" stroke="#000" stroke-width="2"/>
<line x1="82.60" y1="607.10" x2="82.60" y2="597.70" stroke="#000" stroke-width="1.45" stroke-linecap="butt"/>
<line x1="78.30" y1="597.70" x2="86.90" y2="597.70" stroke="#000" stroke-width="1.9" stroke-linecap="butt"/>
<rect x="74.80" y="607.10" width="15.60" height="13.00" fill="#cdcdcd" stroke="#000" stroke-width="2"/>
<line x1="105.80" y1="535.74" x2="105.80" y2="516.93" stroke="#000" stroke-width="1.45" stroke-linecap="butt"/>
<line x1="101.50" y1="516.93" x2="110.10" y2="516.93" stroke="#000" stroke-width="1.9" stroke-linecap="butt"/>
<rect x="98.00" y="535.74" width="15.60" height="84.36" fill="#cdcdcd" stroke="#000" stroke-width="2"/>
<line x1="129.00" y1="565.06" x2="129.00" y2="547.63" stroke="#000" stroke-width="1.45" stroke-linecap="butt"/>
<line x1="124.70" y1="547.63" x2="133.30" y2="547.63" stroke="#000" stroke-width="1.9" stroke-linecap="butt"/>
<rect x="121.20" y="565.06" width="15.60" height="55.04" fill="#cdcdcd" stroke="#000" stroke-width="2"/>
<line x1="47.90" y1="480.75" x2="47.90" y2="621.15" stroke="#000" stroke-width="2.1" stroke-linecap="butt"/>
<line x1="43.40" y1="481.80" x2="48.95" y2="481.80" stroke="#000" stroke-width="2.1" stroke-linecap="butt"/>
<line x1="43.40" y1="509.46" x2="48.95" y2="509.46" stroke="#000" stroke-width="2.1" stroke-linecap="butt"/>
<line x1="43.40" y1="537.12" x2="48.95" y2="537.12" stroke="#000" stroke-width="2.1" stroke-linecap="butt"/>
<line x1="43.40" y1="564.78" x2="48.95" y2="564.78" stroke="#000" stroke-width="2.1" stroke-linecap="butt"/>
<line x1="43.40" y1="592.44" x2="48.95" y2="592.44" stroke="#000" stroke-width="2.1" stroke-linecap="butt"/>
<line x1="43.40" y1="620.10" x2="48.95" y2="620.10" stroke="#000" stroke-width="2.1" stroke-linecap="butt"/>
<line x1="47.90" y1="620.10" x2="141.90" y2="620.10" stroke="#000" stroke-width="2.1" stroke-linecap="butt"/>
<line x1="59.40" y1="620.10" x2="59.40" y2="624.60" stroke="#000" stroke-width="2.1" stroke-linecap="butt"/>
<line x1="82.60" y1="620.10" x2="82.60" y2="624.60" stroke="#000" stroke-width="2.1" stroke-linecap="butt"/>
<line x1="105.80" y1="620.10" x2="105.80" y2="624.60" stroke="#000" stroke-width="2.1" stroke-linecap="butt"/>
<line x1="129.00" y1="620.10" x2="129.00" y2="624.60" stroke="#000" stroke-width="2.1" stroke-linecap="butt"/>
<text x="42.80" y="485.40" font-size="10.8" font-weight="bold" text-anchor="end" >5</text>
<text x="42.80" y="513.06" font-size="10.8" font-weight="bold" text-anchor="end" >4</text>
<text x="42.80" y="540.72" font-size="10.8" font-weight="bold" text-anchor="end" >3</text>
<text x="42.80" y="568.38" font-size="10.8" font-weight="bold" text-anchor="end" >2</text>
<text x="42.80" y="596.04" font-size="10.8" font-weight="bold" text-anchor="end" >1</text>
<text x="42.80" y="623.70" font-size="10.8" font-weight="bold" text-anchor="end" >0</text>
<text x="0" y="0" font-size="11.4" font-weight="bold" text-anchor="middle" transform="translate(18.85,551.90) rotate(-90)">anti-A<tspan font-weight="normal">β</tspan> titer (O.D. values)</text>
<text x="88.30" y="478.80" font-size="12" font-weight="bold" text-anchor="middle" >WT</text>
<text x="0" y="0" font-size="10.6" font-weight="bold" text-anchor="end" transform="translate(63.20,636.00) rotate(-45)">IgG1</text>
<text x="0" y="0" font-size="10.6" font-weight="bold" text-anchor="end" transform="translate(86.40,636.00) rotate(-45)">IgG2a/c</text>
<text x="0" y="0" font-size="10.6" font-weight="bold" text-anchor="end" transform="translate(109.60,636.00) rotate(-45)">IgG2b</text>
<text x="0" y="0" font-size="10.6" font-weight="bold" text-anchor="end" transform="translate(132.80,636.00) rotate(-45)">IgG3</text>
<text x="182.70" y="466.10" font-size="17" font-weight="bold" text-anchor="start" >G</text>
<line x1="239.00" y1="616.86" x2="239.00" y2="611.35" stroke="#000" stroke-width="1.45" stroke-linecap="butt"/>
<line x1="234.70" y1="611.35" x2="243.30" y2="611.35" stroke="#000" stroke-width="1.9" stroke-linecap="butt"/>
<rect x="231.20" y="616.86" width="15.60" height="4.14" fill="#cdcdcd" stroke="#000" stroke-width="2"/>
<line x1="262.20" y1="596.18" x2="262.20" y2="565.29" stroke="#000" stroke-width="1.45" stroke-linecap="butt"/>
<line x1="257.90" y1="565.29" x2="266.50" y2="565.29" stroke="#000" stroke-width="1.9" stroke-linecap="butt"/>
<rect x="254.40" y="596.18" width="15.60" height="24.82" fill="#cdcdcd" stroke="#000" stroke-width="2"/>
<line x1="285.40" y1="518.68" x2="285.40" y2="512.89" stroke="#000" stroke-width="1.45" stroke-linecap="butt"/>
<line x1="281.10" y1="512.89" x2="289.70" y2="512.89" stroke="#000" stroke-width="1.9" stroke-linecap="butt"/>
<rect x="277.60" y="518.68" width="15.60" height="102.32" fill="#cdcdcd" stroke="#000" stroke-width="2"/>
<line x1="308.60" y1="544.88" x2="308.60" y2="533.30" stroke="#000" stroke-width="1.45" stroke-linecap="butt"/>
<line x1="304.30" y1="533.30" x2="312.90" y2="533.30" stroke="#000" stroke-width="1.9" stroke-linecap="butt"/>
<rect x="300.80" y="544.88" width="15.60" height="76.12" fill="#cdcdcd" stroke="#000" stroke-width="2"/>
<line x1="227.50" y1="482.05" x2="227.50" y2="622.05" stroke="#000" stroke-width="2.1" stroke-linecap="butt"/>
<line x1="223.00" y1="483.10" x2="228.55" y2="483.10" stroke="#000" stroke-width="2.1" stroke-linecap="butt"/>
<line x1="223.00" y1="510.68" x2="228.55" y2="510.68" stroke="#000" stroke-width="2.1" stroke-linecap="butt"/>
<line x1="223.00" y1="538.26" x2="228.55" y2="538.26" stroke="#000" stroke-width="2.1" stroke-linecap="butt"/>
<line x1="223.00" y1="565.84" x2="228.55" y2="565.84" stroke="#000" stroke-width="2.1" stroke-linecap="butt"/>
<line x1="223.00" y1="593.42" x2="228.55" y2="593.42" stroke="#000" stroke-width="2.1" stroke-linecap="butt"/>
<line x1="223.00" y1="621.00" x2="228.55" y2="621.00" stroke="#000" stroke-width="2.1" stroke-linecap="butt"/>
<line x1="227.50" y1="621.00" x2="321.50" y2="621.00" stroke="#000" stroke-width="2.1" stroke-linecap="butt"/>
<line x1="239.00" y1="621.00" x2="239.00" y2="625.50" stroke="#000" stroke-width="2.1" stroke-linecap="butt"/>
<line x1="262.20" y1="621.00" x2="262.20" y2="625.50" stroke="#000" stroke-width="2.1" stroke-linecap="butt"/>
<line x1="285.40" y1="621.00" x2="285.40" y2="625.50" stroke="#000" stroke-width="2.1" stroke-linecap="butt"/>
<line x1="308.60" y1="621.00" x2="308.60" y2="625.50" stroke="#000" stroke-width="2.1" stroke-linecap="butt"/>
<text x="222.40" y="486.70" font-size="10.8" font-weight="bold" text-anchor="end" >5</text>
<text x="222.40" y="514.28" font-size="10.8" font-weight="bold" text-anchor="end" >4</text>
<text x="222.40" y="541.86" font-size="10.8" font-weight="bold" text-anchor="end" >3</text>
<text x="222.40" y="569.44" font-size="10.8" font-weight="bold" text-anchor="end" >2</text>
<text x="222.40" y="597.02" font-size="10.8" font-weight="bold" text-anchor="end" >1</text>
<text x="222.40" y="624.60" font-size="10.8" font-weight="bold" text-anchor="end" >0</text>
<text x="0" y="0" font-size="11.4" font-weight="bold" text-anchor="middle" transform="translate(199.10,553.20) rotate(-90)">anti-A<tspan font-weight="normal">β</tspan> titer (O.D. values)</text>
<text x="268.10" y="480.30" font-size="12.6" font-weight="bold" text-anchor="middle" letter-spacing="0.3">nude</text>
<text x="0" y="0" font-size="10.1" font-weight="bold" text-anchor="end" transform="translate(242.80,636.00) rotate(-45)">IgG1</text>
<text x="0" y="0" font-size="10.1" font-weight="bold" text-anchor="end" transform="translate(266.00,636.00) rotate(-45)">IgG2a/c</text>
<text x="0" y="0" font-size="10.1" font-weight="bold" text-anchor="end" transform="translate(289.20,636.00) rotate(-45)">IgG2b</text>
<text x="0" y="0" font-size="10.1" font-weight="bold" text-anchor="end" transform="translate(312.40,636.00) rotate(-45)">IgG3</text>
<text x="358.10" y="466.00" font-size="17" font-weight="bold" text-anchor="start" >H</text>
<rect x="413.20" y="616.39" width="15.60" height="2.21" fill="#cdcdcd" stroke="#000" stroke-width="2"/>
<line x1="444.20" y1="612.80" x2="444.20" y2="610.31" stroke="#000" stroke-width="1.45" stroke-linecap="butt"/>
<line x1="439.90" y1="610.31" x2="448.50" y2="610.31" stroke="#000" stroke-width="1.9" stroke-linecap="butt"/>
<rect x="436.40" y="612.80" width="15.60" height="5.80" fill="#cdcdcd" stroke="#000" stroke-width="2"/>
<line x1="467.40" y1="526.97" x2="467.40" y2="512.32" stroke="#000" stroke-width="1.45" stroke-linecap="butt"/>
<line x1="463.10" y1="512.32" x2="471.70" y2="512.32" stroke="#000" stroke-width="1.9" stroke-linecap="butt"/>
<rect x="459.60" y="526.97" width="15.60" height="91.63" fill="#cdcdcd" stroke="#000" stroke-width="2"/>
<line x1="490.60" y1="540.79" x2="490.60" y2="522.97" stroke="#000" stroke-width="1.45" stroke-linecap="butt"/>
<line x1="486.30" y1="522.97" x2="494.90" y2="522.97" stroke="#000" stroke-width="1.9" stroke-linecap="butt"/>
<rect x="482.80" y="540.79" width="15.60" height="77.81" fill="#cdcdcd" stroke="#000" stroke-width="2"/>
<line x1="409.90" y1="479.35" x2="409.90" y2="619.65" stroke="#000" stroke-width="2.1" stroke-linecap="butt"/>
<line x1="405.40" y1="480.40" x2="410.95" y2="480.40" stroke="#000" stroke-width="2.1" stroke-linecap="butt"/>
<line x1="405.40" y1="508.04" x2="410.95" y2="508.04" stroke="#000" stroke-width="2.1" stroke-linecap="butt"/>
<line x1="405.40" y1="535.68" x2="410.95" y2="535.68" stroke="#000" stroke-width="2.1" stroke-linecap="butt"/>
<line x1="405.40" y1="563.32" x2="410.95" y2="563.32" stroke="#000" stroke-width="2.1" stroke-linecap="butt"/>
<line x1="405.40" y1="590.96" x2="410.95" y2="590.96" stroke="#000" stroke-width="2.1" stroke-linecap="butt"/>
<line x1="405.40" y1="618.60" x2="410.95" y2="618.60" stroke="#000" stroke-width="2.1" stroke-linecap="butt"/>
<line x1="409.90" y1="618.60" x2="503.90" y2="618.60" stroke="#000" stroke-width="2.1" stroke-linecap="butt"/>
<line x1="421.00" y1="618.60" x2="421.00" y2="623.10" stroke="#000" stroke-width="2.1" stroke-linecap="butt"/>
<line x1="444.20" y1="618.60" x2="444.20" y2="623.10" stroke="#000" stroke-width="2.1" stroke-linecap="butt"/>
<line x1="467.40" y1="618.60" x2="467.40" y2="623.10" stroke="#000" stroke-width="2.1" stroke-linecap="butt"/>
<line x1="490.60" y1="618.60" x2="490.60" y2="623.10" stroke="#000" stroke-width="2.1" stroke-linecap="butt"/>
<text x="404.80" y="484.00" font-size="10.8" font-weight="bold" text-anchor="end" >5</text>
<text x="404.80" y="511.64" font-size="10.8" font-weight="bold" text-anchor="end" >4</text>
<text x="404.80" y="539.28" font-size="10.8" font-weight="bold" text-anchor="end" >3</text>
<text x="404.80" y="566.92" font-size="10.8" font-weight="bold" text-anchor="end" >2</text>
<text x="404.80" y="594.56" font-size="10.8" font-weight="bold" text-anchor="end" >1</text>
<text x="404.80" y="622.20" font-size="10.8" font-weight="bold" text-anchor="end" >0</text>
<text x="0" y="0" font-size="11.4" font-weight="bold" text-anchor="middle" transform="translate(381.40,551.40) rotate(-90)">anti-A<tspan font-weight="normal">β</tspan> titer (O.D. values)</text>
<text x="450.80" y="477.90" font-size="13" font-weight="bold" text-anchor="middle" >TCR-/-</text>
<text x="0" y="0" font-size="10.2" font-weight="bold" text-anchor="end" transform="translate(425.40,633.80) rotate(-45)">IgG1</text>
<text x="0" y="0" font-size="10.2" font-weight="bold" text-anchor="end" transform="translate(448.60,633.80) rotate(-45)">IgG2a/c</text>
<text x="0" y="0" font-size="10.2" font-weight="bold" text-anchor="end" transform="translate(471.80,633.80) rotate(-45)">IgG2b</text>
<text x="0" y="0" font-size="10.2" font-weight="bold" text-anchor="end" transform="translate(495.00,633.80) rotate(-45)">IgG3</text>
</g>
</svg>
</body></html>
